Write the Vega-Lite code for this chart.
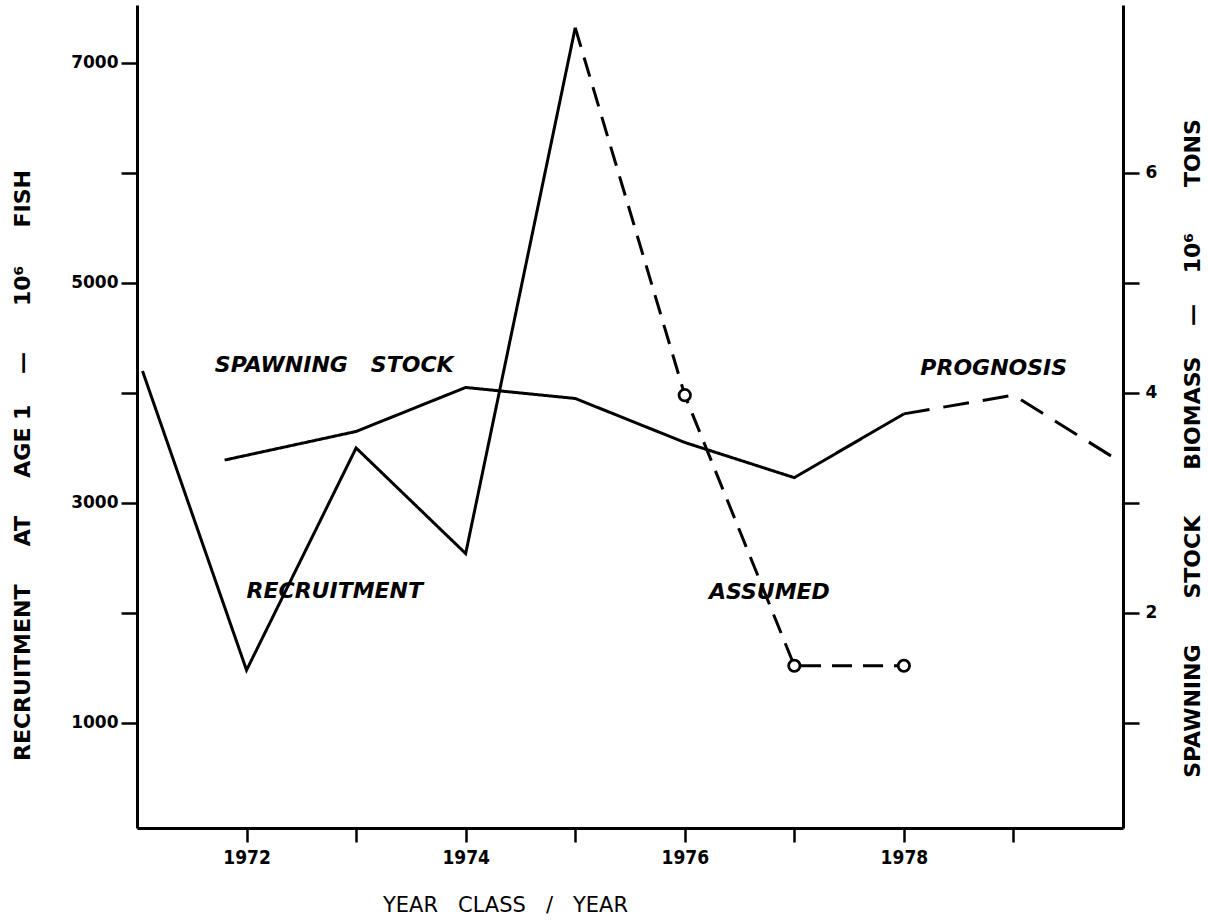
{
  "$schema": "https://vega.github.io/schema/vega-lite/v6.json",
  "width": 986,
  "height": 823,
  "autosize": {"type": "none"},
  "padding": {"left": 137, "top": 5, "right": 85, "bottom": 96},
  "background": "white",
  "config": {
    "view": {"stroke": null},
    "axis": {
      "grid": false,
      "domainColor": "black",
      "domainWidth": 3,
      "tickColor": "black",
      "tickWidth": 2.5,
      "tickSize": 15,
      "labelColor": "black",
      "labelFont": "DejaVu Sans",
      "labelFontWeight": "bold",
      "labelFontSize": 17,
      "titleColor": "black",
      "titleFont": "DejaVu Sans",
      "titleFontWeight": "bold",
      "titleFontSize": 21
    }
  },
  "datasets": {
    "recruitment": [
      {"year": 1971.05, "value": 4200, "seg": "observed"},
      {"year": 1972, "value": 1480, "seg": "observed"},
      {"year": 1973, "value": 3500, "seg": "observed"},
      {"year": 1974, "value": 2540, "seg": "observed"},
      {"year": 1975, "value": 7320, "seg": "observed"},
      {"year": 1975, "value": 7320, "seg": "assumed"},
      {"year": 1976, "value": 3980, "seg": "assumed"},
      {"year": 1977, "value": 1520, "seg": "assumed"},
      {"year": 1978, "value": 1520, "seg": "assumed"}
    ],
    "spawning": [
      {"year": 1971.8, "biomass": 3.39, "seg": "observed"},
      {"year": 1973, "biomass": 3.65, "seg": "observed"},
      {"year": 1974, "biomass": 4.05, "seg": "observed"},
      {"year": 1975, "biomass": 3.95, "seg": "observed"},
      {"year": 1976, "biomass": 3.55, "seg": "observed"},
      {"year": 1977, "biomass": 3.23, "seg": "observed"},
      {"year": 1978, "biomass": 3.81, "seg": "observed"},
      {"year": 1978, "biomass": 3.81, "seg": "prognosis"},
      {"year": 1979, "biomass": 3.98, "seg": "prognosis"},
      {"year": 1980, "biomass": 3.36, "seg": "prognosis"}
    ],
    "labels": [
      {"year": 1971.71, "value": 4250, "label": "SPAWNING\u00a0\u00a0\u00a0STOCK"},
      {"year": 1972.0, "value": 2200, "label": "RECRUITMENT"},
      {"year": 1976.22, "value": 2190, "label": "ASSUMED"},
      {"year": 1978.15, "value": 4230, "label": "PROGNOSIS"}
    ]
  },
  "encoding": {
    "x": {
      "field": "year",
      "type": "quantitative",
      "scale": {"domain": [1971, 1980], "nice": false, "zero": false},
      "axis": {
        "values": [1972, 1973, 1974, 1975, 1976, 1977, 1978, 1979],
        "format": "d",
        "labelExpr": "datum.value % 2 == 0 ? datum.label : ''",
        "labelFont": "Liberation Sans Narrow, DejaVu Sans Condensed, DejaVu Sans",
        "labelFontSize": 19,
        "labelPadding": 6,
        "tickSize": 14,
        "title": "YEAR\u00a0\u00a0\u00a0CLASS\u00a0\u00a0\u00a0/\u00a0\u00a0\u00a0YEAR",
        "titleFontWeight": "normal",
        "titleFontSize": 21,
        "titleX": 368,
        "titleY": 77,
        "titleAnchor": "middle",
        "titleAlign": "center",
        "titleBaseline": "middle"
      }
    }
  },
  "layer": [
    {
      "encoding": {
        "y": {
          "field": "value",
          "type": "quantitative",
          "scale": {"domain": [45, 7527], "nice": false, "zero": false},
          "axis": {
            "orient": "left",
            "values": [1000, 2000, 3000, 4000, 5000, 6000, 7000],
            "format": "d",
            "labelExpr": "datum.value % 2000 == 1000 ? datum.label : ''",
            "tickSize": 16,
            "labelPadding": 3,
            "title": "RECRUITMENT\u00a0\u00a0\u00a0\u00a0\u00a0AT\u00a0\u00a0\u00a0\u00a0\u00a0AGE 1\u00a0\u00a0\u00a0\u00a0\u2014\u00a0\u00a0\u00a0\u00a0\u00a0\u00a010\u2076\u00a0\u00a0\u00a0\u00a0\u00a0FISH",
            "titleFontSize": 22,
            "titleAngle": 270,
            "titleX": -115,
            "titleY": 460,
            "titleAlign": "center",
            "titleBaseline": "middle"
          }
        }
      },
      "layer": [
        {
          "data": {"name": "recruitment"},
          "mark": {"type": "line", "color": "black", "strokeWidth": 3},
          "encoding": {
            "strokeDash": {
              "field": "seg",
              "type": "nominal",
              "scale": {"domain": ["observed", "assumed"], "range": [[1, 0], [20, 11]]},
              "legend": null
            }
          }
        },
        {
          "data": {"name": "recruitment"},
          "transform": [{"filter": "datum.seg == 'assumed' && datum.year > 1975"}],
          "mark": {"type": "point", "shape": "circle", "size": 130, "filled": true, "fill": "white", "stroke": "black", "strokeWidth": 2.8, "opacity": 1}
        },
        {
          "data": {"name": "labels"},
          "mark": {"type": "text", "align": "left", "baseline": "middle", "font": "DejaVu Sans", "fontWeight": "bold", "fontStyle": "italic", "fontSize": 22, "color": "black"},
          "encoding": {"text": {"field": "label"}}
        }
      ]
    },
    {
      "data": {"name": "spawning"},
      "mark": {"type": "line", "color": "black", "strokeWidth": 3},
      "encoding": {
        "y": {
          "field": "biomass",
          "type": "quantitative",
          "scale": {"domain": [0.045, 7.527], "nice": false, "zero": false},
          "axis": {
            "orient": "right",
            "values": [1, 2, 3, 4, 5, 6],
            "labelExpr": "datum.value % 2 == 0 ? datum.label : ''",
            "tickSize": 16,
            "labelPadding": 6,
            "title": "SPAWNING\u00a0\u00a0\u00a0\u00a0\u00a0\u00a0STOCK\u00a0\u00a0\u00a0\u00a0\u00a0\u00a0BIOMASS\u00a0\u00a0\u00a0\u00a0\u2014\u00a0\u00a0\u00a0\u00a010\u2076\u00a0\u00a0\u00a0\u00a0\u00a0\u00a0TONS",
            "titleFontSize": 22,
            "titleAngle": 270,
            "titleX": 69,
            "titleY": 443,
            "titleAlign": "center",
            "titleBaseline": "middle"
          }
        },
        "strokeDash": {
          "field": "seg",
          "type": "nominal",
          "scale": {"domain": ["observed", "prognosis"], "range": [[1, 0], [26, 14]]},
          "legend": null
        }
      }
    }
  ],
  "resolve": {"scale": {"y": "independent", "strokeDash": "independent"}}
}
